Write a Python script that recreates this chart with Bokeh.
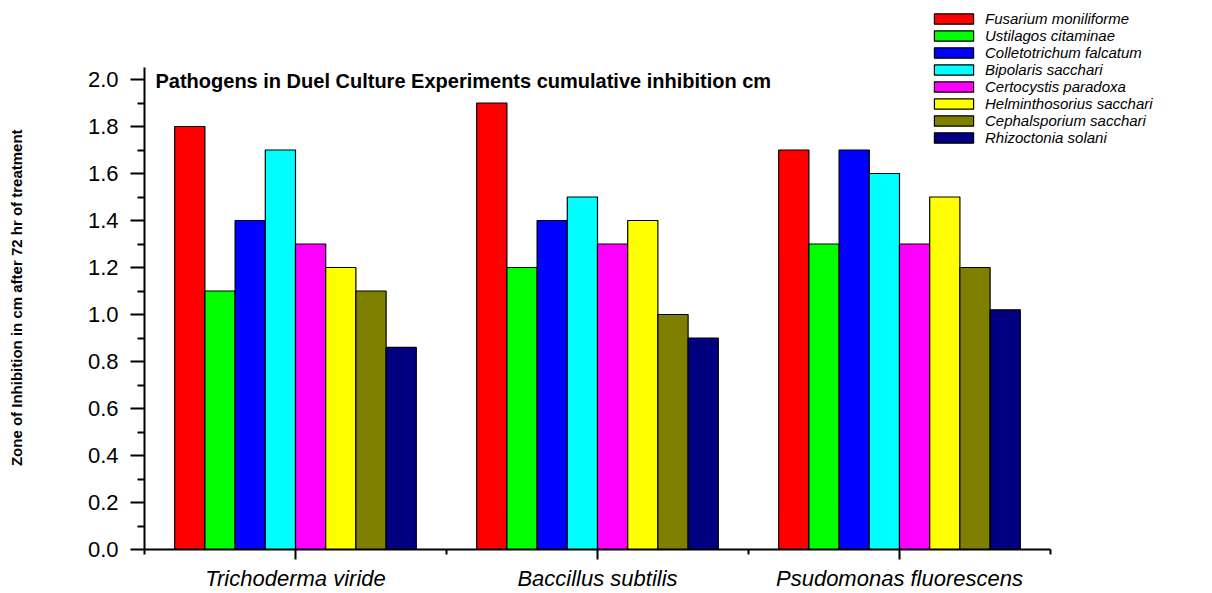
from bokeh.plotting import figure
from bokeh.models import (Range1d, FixedTicker, PrintfTickFormatter,
                          Legend, LegendItem, Label, ColumnDataSource)
from bokeh.embed import file_html
from bokeh.resources import INLINE

# ---- data ----
groups = ["Trichoderma viride", "Baccillus subtilis", "Psudomonas fluorescens"]
pathogens = ["Fusarium moniliforme", "Ustilagos citaminae", "Colletotrichum falcatum",
             "Bipolaris sacchari", "Certocystis paradoxa", "Helminthosorius sacchari",
             "Cephalsporium sacchari", "Rhizoctonia solani"]
fusarium = [1.8, 1.9, 1.7]
ustilagos = [1.1, 1.2, 1.3]
colletotrichum = [1.4, 1.4, 1.7]
bipolaris = [1.7, 1.5, 1.6]
certocystis = [1.3, 1.3, 1.3]
helminthosorius = [1.2, 1.4, 1.5]
cephalsporium = [1.1, 1.0, 1.2]
rhizoctonia = [0.86, 0.9, 1.02]
series = [fusarium, ustilagos, colletotrichum, bipolaris, certocystis,
          helminthosorius, cephalsporium, rhizoctonia]
colors = ["#FF0000", "#00FF00", "#0000FF", "#00FFFF", "#FF00FF", "#FFFF00", "#808000", "#000080"]
y_ticks = [0.0, 0.2, 0.4, 0.6, 0.8, 1.0, 1.2, 1.4, 1.6, 1.8, 2.0]
y_minor = [0.1, 0.3, 0.5, 0.7, 0.9, 1.1, 1.3, 1.5, 1.7, 1.9]
title_text = "Pathogens in Duel Culture Experiments cumulative inhibition cm"
y_title = "Zone of Inhibition in cm after 72 hr of treatment"

FONT = "Liberation Sans"
W, H = 1212, 593
LEFT, RIGHT, TOP, BOTTOM = 144, 1196, 8, 549   # frame edges on the canvas
PX_X, PX_Y = 302.0, 235.0                      # pixels per data unit

p = figure(width=W, height=H, output_backend="svg", toolbar_location=None,
           x_range=Range1d(0, (RIGHT - LEFT) / PX_X),
           y_range=Range1d(0, (BOTTOM - TOP) / PX_Y),
           min_border_left=LEFT, min_border_right=W - RIGHT,
           min_border_top=TOP, min_border_bottom=H - BOTTOM)
p.outline_line_color = None
p.xgrid.visible = False
p.ygrid.visible = False
p.background_fill_color = "white"
p.border_fill_color = "white"

n = len(series)
bar_w = 0.8 / n
items = []
for j, (vals, col, name) in enumerate(zip(series, colors, pathogens)):
    xs = [i + 0.5 + (j - (n - 1) / 2) * bar_w for i in range(len(groups))]
    src = ColumnDataSource(dict(x=xs, top=vals))
    r = p.vbar(x="x", top="top", width=bar_w, bottom=0, source=src,
               fill_color=col, line_color="black", line_width=1.2)
    items.append(LegendItem(label=name, renderers=[r]))

# x axis
p.xaxis.bounds = (0, len(groups))
p.xaxis.ticker = FixedTicker(ticks=[i + 0.5 for i in range(len(groups))],
                             minor_ticks=[float(i) for i in range(len(groups) + 1)])
p.xaxis.major_label_overrides = {i + 0.5: g for i, g in enumerate(groups)}
p.xaxis.major_label_text_font = FONT
p.xaxis.major_label_text_font_style = "italic"
p.xaxis.major_label_text_font_size = "22px"
p.xaxis.major_label_text_color = "black"
p.xaxis.major_label_standoff = 6
p.xaxis.major_tick_out = 10
p.xaxis.major_tick_in = 0
p.xaxis.minor_tick_out = 5
p.xaxis.minor_tick_in = 0
p.xaxis.axis_line_width = 2
p.xaxis.major_tick_line_width = 2
p.xaxis.minor_tick_line_width = 2
p.xaxis.axis_line_color = "black"

# y axis
p.yaxis.bounds = (0, 2.05)
p.yaxis.ticker = FixedTicker(ticks=y_ticks, minor_ticks=y_minor)
p.yaxis.formatter = PrintfTickFormatter(format="%.1f")
p.yaxis.major_label_text_font = FONT
p.yaxis.major_label_text_font_size = "22px"
p.yaxis.major_label_text_color = "black"
p.yaxis.major_label_standoff = 12
p.yaxis.major_tick_out = 14
p.yaxis.major_tick_in = 0
p.yaxis.minor_tick_out = 7
p.yaxis.minor_tick_in = 0
p.yaxis.axis_line_width = 2
p.yaxis.major_tick_line_width = 2
p.yaxis.minor_tick_line_width = 2
p.yaxis.axis_line_color = "black"
# trailing no-break spaces nudge the centred label slightly downward
p.yaxis.axis_label = y_title + "\u00a0" * 9
p.yaxis.axis_label_text_font = FONT
p.yaxis.axis_label_text_font_style = "bold"
p.yaxis.axis_label_text_font_size = "15px"
p.yaxis.axis_label_text_color = "black"
p.yaxis.axis_label_standoff = 60

# in-plot title
p.add_layout(Label(x=11, y=BOTTOM - 80, x_units="screen", y_units="screen", text=title_text,
                   text_font=FONT, text_font_style="bold", text_font_size="20px",
                   text_color="black", text_baseline="middle"))

# legend (top right)
legend = Legend(items=items, location=(929 - LEFT, BOTTOM - 146), orientation="vertical",
                label_text_font=FONT, label_text_font_style="italic",
                label_text_font_size="15px", label_text_color="black",
                glyph_width=49, glyph_height=13, label_height=13, label_standoff=7,
                spacing=0, padding=0, margin=0,
                border_line_alpha=0, background_fill_alpha=0)
p.add_layout(legend, "center")

open("out.html", "w").write(file_html(p, INLINE))
